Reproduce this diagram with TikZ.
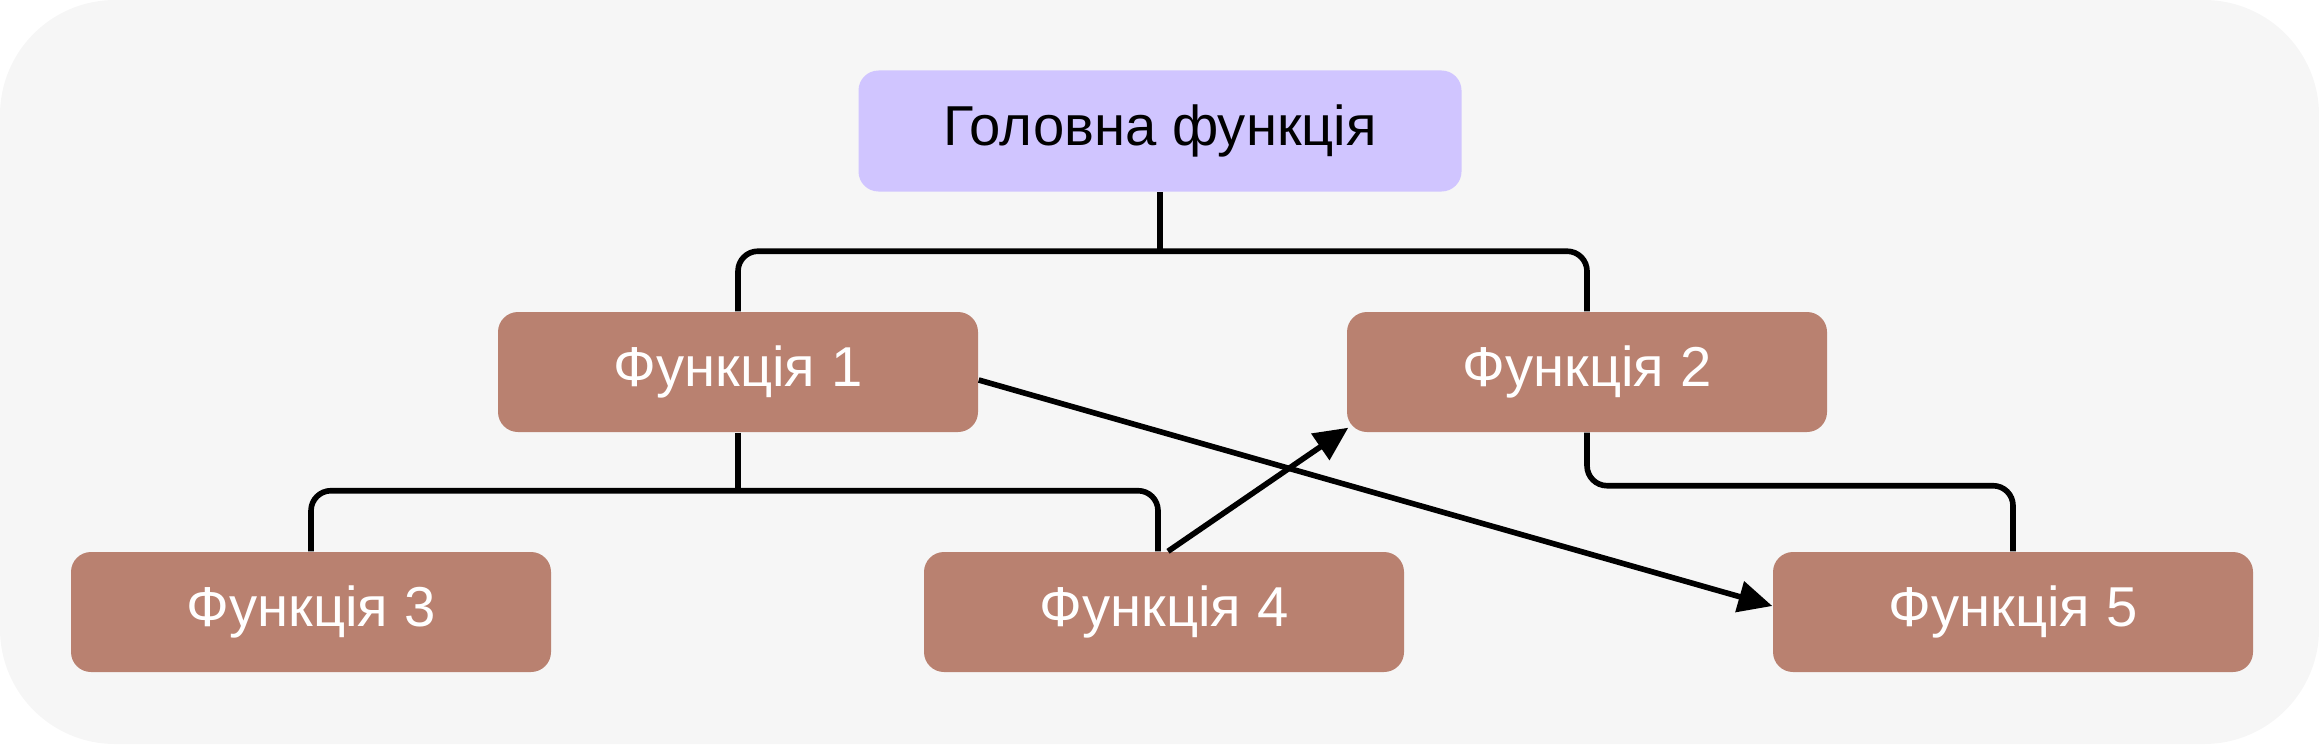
\documentclass[tikz,border=0pt]{standalone}
\usepackage{fontspec}
\setmainfont{Liberation Sans}
\definecolor{canvas}{RGB}{246, 246, 246}
\definecolor{mainfill}{RGB}{208, 197, 255}
\definecolor{funcfill}{RGB}{185, 129, 112}
\usetikzlibrary{arrows.meta, positioning}

\begin{document}
\begin{tikzpicture}[
    box/.style={rounded corners=0.2cm, minimum width=4.8cm, minimum height=1.2cm,
      inner sep=0pt, font=\fontsize{16}{19}\selectfont},
    mainbox/.style={box, fill=mainfill, text=black, minimum width=6.03cm, minimum height=1.21cm},
    funcbox/.style={box, fill=funcfill, text=white},
    link/.style={draw=black, line width=1.6pt, rounded corners=0.2cm},
    arrow/.style={draw=black, line width=1.6pt, -{Triangle[length=3.4mm, width=3.1mm]}}
  ]
  \fill[canvas, rounded corners=1.15cm] (0, 0) rectangle (23.19, 7.44);
  \useasboundingbox (0, 0) rectangle (23.19, 7.44);

  \node[mainbox] (main) at (11.60, 6.13) {Головна функція};
  \node[funcbox] (f1) at (7.38, 3.72) {Функція 1};
  \node[funcbox] (f2) at (15.87, 3.72) {Функція 2};
  \node[funcbox] (f3) at (3.11, 1.32) {Функція 3};
  \node[funcbox] (f4) at (11.64, 1.32) {Функція 4};
  \node[funcbox] (f5) at (20.13, 1.32) {Функція 5};

  % tree links
  \draw[link] (main.south) -- ++(0, -0.59) coordinate (hubtop);
  \draw[link] (f1.north) |- (hubtop) -| (f2.north);
  \draw[link] (f1.south) -- ++(0, -0.58) coordinate (hubleft);
  \draw[link] (f3.north) |- (hubleft) -| ([xshift=-0.06cm]f4.north);
  \draw[link] (f2.south) -- ++(0, -0.53) -| (f5.north);

  % cross links
  \draw[arrow] ([xshift=0.04cm]f4.north) -- ([xshift=0.02cm, yshift=0.05cm]f2.south west);
  \draw[arrow] ([yshift=-0.08cm]f1.east) -- ([yshift=0.06cm]f5.west);
\end{tikzpicture}
\end{document}
